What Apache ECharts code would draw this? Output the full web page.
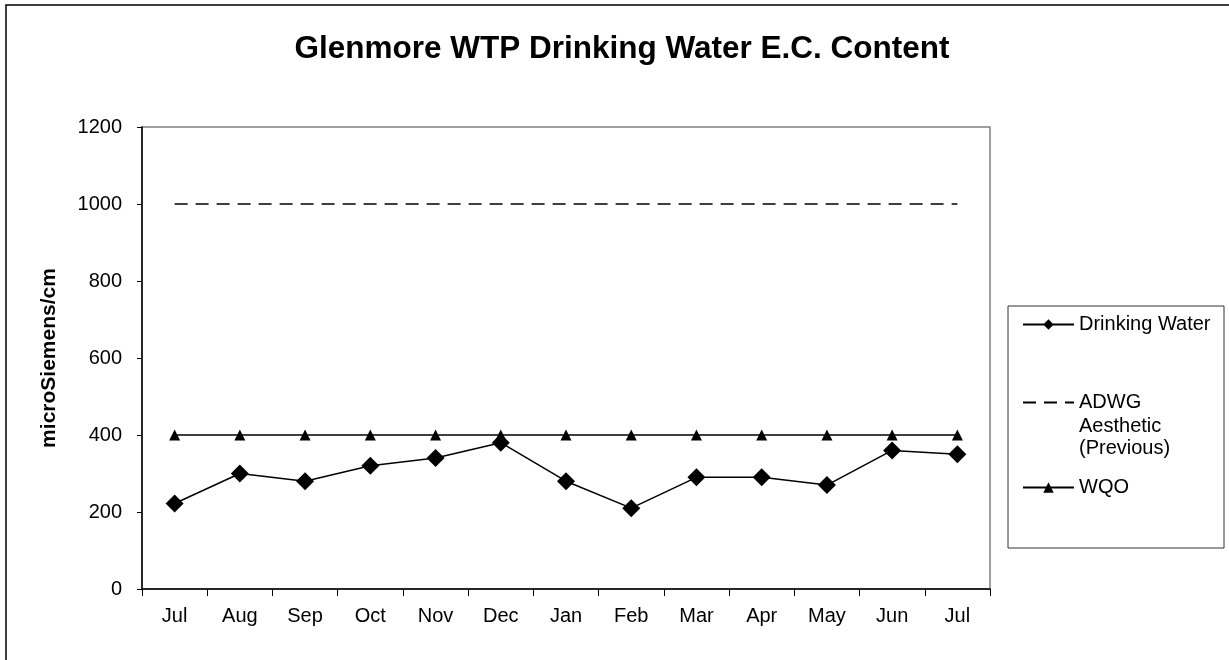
<!DOCTYPE html>
<html lang="en">
<head>
  <meta charset="UTF-8">
  <title>Glenmore WTP Drinking Water E.C. Content</title>
  <style>
    html, body { margin: 0; padding: 0; background: #fff; }
    #chart { width: 1229px; height: 660px; }
  </style>
</head>
<body>
  <div id="chart"></div>
  <script src="https://cdn.jsdelivr.net/npm/echarts@6/dist/echarts.min.js"></script>
  <script>
    var months = ['Jul', 'Aug', 'Sep', 'Oct', 'Nov', 'Dec', 'Jan', 'Feb', 'Mar', 'Apr', 'May', 'Jun', 'Jul'];
    var drinkingWater = [222, 300, 280, 320, 340, 380, 280, 210, 290, 290, 270, 360, 350];
    var adwgAesthetic = [1000, 1000, 1000, 1000, 1000, 1000, 1000, 1000, 1000, 1000, 1000, 1000, 1000];
    var wqo = [400, 400, 400, 400, 400, 400, 400, 400, 400, 400, 400, 400, 400];

    var FONT = '"Liberation Sans", Arial, sans-serif';
    var adwgName = 'ADWG Aesthetic (Previous)';

    var chart = echarts.init(document.getElementById('chart'));

    // one legend per item so each can sit where it does in the original
    function legendFor(name, top, more) {
      var lg = {
        data: [name],
        left: 1017,
        top: top,
        orient: 'vertical',
        itemWidth: 51,
        itemHeight: 13,
        selectedMode: false,
        textStyle: { color: '#000', fontSize: 20, fontFamily: FONT }
      };
      for (var k in more) lg[k] = more[k];
      return lg;
    }

    var option = {
      animation: false,
      backgroundColor: '#fff',
      graphic: [
        { type: 'rect', shape: { x: 6, y: 5, width: 1400, height: 800 },
          style: { fill: 'none', stroke: '#000', lineWidth: 1.5 }, silent: true },
        { type: 'rect', shape: { x: 1008, y: 306, width: 216, height: 242 },
          style: { fill: 'none', stroke: '#333', lineWidth: 1 }, silent: true },
        { type: 'text', x: 622, y: 49,
          style: { text: 'Glenmore WTP Drinking Water E.C. Content', fill: '#000',
            font: 'bold 31.5px ' + FONT, align: 'center', verticalAlign: 'middle' } },
        // rest of the ADWG legend label, wrapped like the original
        { type: 'text', x: 1079, y: 415,
          style: { text: 'Aesthetic\n(Previous)', fill: '#000', font: '20px ' + FONT,
            lineHeight: 22, align: 'left', verticalAlign: 'top' } }
      ],
      legend: [
        legendFor('Drinking Water', 309.5),
        legendFor(adwgName, 387.5, {
          formatter: function () { return 'ADWG'; },
          itemStyle: { color: 'rgba(0,0,0,0)', borderWidth: 0 }
        }),
        legendFor('WQO', 472.5)
      ],
      grid: {
        left: 142,
        top: 127,
        right: 239,
        bottom: 71,
        show: true,
        borderColor: '#808080',
        borderWidth: 1.5
      },
      xAxis: {
        type: 'category',
        data: months,
        boundaryGap: true,
        axisLine: { lineStyle: { color: '#000', width: 1.5 } },
        axisTick: { show: true, length: 7, lineStyle: { color: '#000', width: 1 } },
        axisLabel: { color: '#000', fontSize: 20, fontFamily: FONT, margin: 17, interval: 0 },
        splitLine: { show: false }
      },
      yAxis: {
        type: 'value',
        min: 0,
        max: 1200,
        interval: 200,
        name: 'microSiemens/cm',
        nameLocation: 'middle',
        nameGap: 82,
        nameTextStyle: { color: '#000', fontSize: 21, fontWeight: 'bold', fontFamily: FONT },
        axisLine: { show: true, lineStyle: { color: '#000', width: 1.5 } },
        axisTick: { show: true, length: 5, lineStyle: { color: '#000', width: 1 } },
        axisLabel: {
          color: '#000', fontSize: 20, fontFamily: FONT, margin: 20,
          formatter: function (v) { return String(v); }
        },
        splitLine: { show: false }
      },
      series: [
        {
          name: 'Drinking Water',
          type: 'line',
          data: drinkingWater,
          symbol: 'diamond',
          symbolSize: 18,
          lineStyle: { color: '#000', width: 1.5 },
          itemStyle: { color: '#000' },
          z: 4
        },
        {
          name: adwgName,
          type: 'line',
          data: adwgAesthetic,
          symbol: 'none',
          lineStyle: { color: '#000', width: 1.5, type: [13, 8] },
          itemStyle: { color: '#000' }
        },
        {
          name: 'WQO',
          type: 'line',
          data: wqo,
          symbol: 'triangle',
          symbolSize: 11,
          lineStyle: { color: '#000', width: 1.5 },
          itemStyle: { color: '#000' }
        }
      ]
    };

    chart.setOption(option);
  </script>
</body>
</html>
